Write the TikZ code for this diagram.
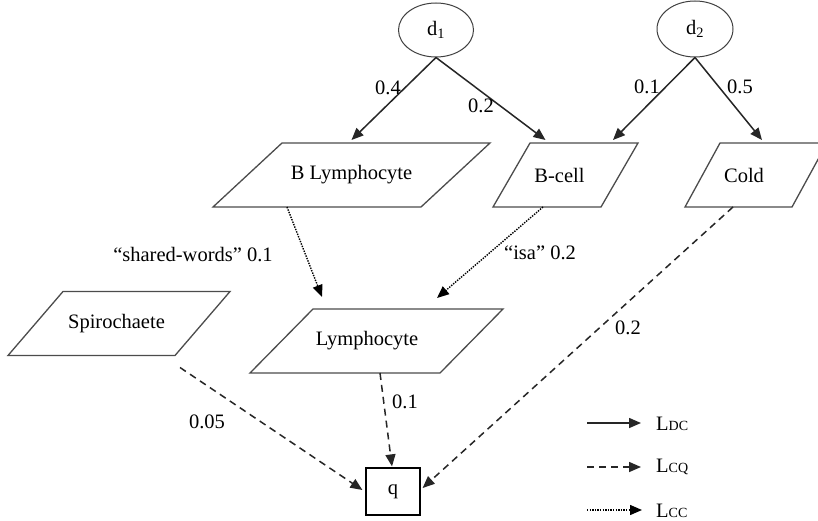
\documentclass[tikz,border=0pt]{standalone}
\usepackage{fontspec}
\setmainfont{Liberation Serif}
\usetikzlibrary{arrows.meta,shapes.geometric}
\newcommand{\drawpara}[2]{\draw[paraline] (#1.south west) -- ([xshift=#2]#1.north west) -- (#1.north east) -- ([xshift=-#2]#1.south east) -- cycle;}
\newcommand{\smallsub}[1]{{\fontsize{14}{14}\selectfont #1}}
\tikzset{
  paraline/.style={draw=black!70, line width=1.3pt},
  parabox/.style={minimum height=64pt, inner sep=0pt, outer sep=0pt},
  docnode/.style={ellipse, draw=black!75, line width=1pt, inner sep=0pt},
  qnode/.style={rectangle, draw=black, line width=1.2pt, minimum width=54pt, minimum height=47pt, inner sep=0pt},
  lbl/.style={inner sep=0pt},
  tipA/.style={-{Triangle[length=12pt,width=10pt]}},
  dc/.style={draw=black!85, line width=1.5pt, tipA},
  cq/.style={draw=black!85, line width=1.5pt, dash pattern=on 7pt off 5pt, tipA},
  cc/.style={draw=black, line width=1.4pt, dash pattern=on 1.4pt off 1.2pt, tipA},
}
\begin{document}
\begin{tikzpicture}[x=1pt,y=-1pt,font=\fontsize{20.5}{22}\selectfont]
\useasboundingbox (0,0) rectangle (818,521);
\fill[white] (0,0) rectangle (818,521);
\begin{scope}
\clip (0,0) rectangle (818,521);
% documents
\node[docnode, minimum width=75pt, minimum height=54pt] (d1) at (436,30) {d\textsubscript{1}};
\node[docnode, minimum width=76pt, minimum height=56pt] (d2) at (695,29) {d\textsubscript{2}};
% concepts
\node[parabox, minimum width=277pt] (blym) at (351.5,175) {B Lymphocyte};
\drawpara{blym}{69pt}
\node[parabox, minimum width=145pt] (bcell) at (565.5,175) {B-cell\hspace*{12pt}};
\drawpara{bcell}{37pt}
\node[parabox, minimum width=142pt] (cold) at (756,175) {Cold\hspace*{24pt}};
\drawpara{cold}{35pt}
\node[parabox, minimum width=222pt] (spiro) at (119,323.5) {Spirochaete\hspace*{5pt}};
\drawpara{spiro}{55pt}
\node[parabox, minimum width=253pt] (lymph) at (376.5,341) {Lymphocyte\hspace*{19pt}};
\drawpara{lymph}{63pt}
% query
\node[qnode] (q) at (393,491.5) {q};
\end{scope}
% L_DC edges
\draw[dc] (d1.south) -- ([yshift=3pt]blym.north);
\draw[dc] (d1.south) -- ([xshift=-20pt,yshift=3pt]bcell.north);
\draw[dc] (d2.south) -- ([xshift=47.5pt,yshift=3pt]bcell.north);
\draw[dc] (d2.south) -- ([xshift=6pt,yshift=3pt]cold.north);
% L_CC edges
\draw[cc] ([xshift=-64.5pt]blym.south) -- ([xshift=-54.5pt,yshift=12pt]lymph.north);
\draw[cc] ([xshift=-22.5pt]bcell.south) -- ([xshift=60.5pt,yshift=11pt]lymph.north);
% L_CQ edges
\draw[cq] ([xshift=-23pt]cold.south) -- ([xshift=2pt,yshift=3.5pt]q.east);
\draw[cq] ([xshift=3.5pt]lymph.south) -- ([xshift=-1pt,yshift=1pt]q.north);
\draw[cq] ([xshift=61pt,yshift=-12pt]spiro.south) -- ([xshift=-3pt,yshift=1.5pt]q.west);
% edge labels
\node[lbl] (w1) at (388,88) {0.4};
\node[lbl] (w2) at (481,106) {0.2};
\node[lbl] (w3) at (647,87) {0.1};
\node[lbl] (w4) at (740,87) {0.5};
\node[lbl] (w5) at (193,255) {“shared-words” 0.1};
\node[lbl] (w6) at (540,253) {“isa” 0.2};
\node[lbl] (w7) at (628,328) {0.2};
\node[lbl] (w8) at (405,402) {0.1};
\node[lbl] (w9) at (207,422) {0.05};
% legend
\coordinate (la1) at (587,423); \coordinate (la2) at (641,423);
\coordinate (lb1) at (587,467); \coordinate (lb2) at (641,467);
\coordinate (lc1) at (587,510); \coordinate (lc2) at (642,510);
\draw[dc] (la1) -- (la2);
\draw[cq] (lb1) -- (lb2);
\draw[cc] (lc1) -- (lc2);
\node[lbl, anchor=west] (ldc) at (656,424) {L\smallsub{DC}};
\node[lbl, anchor=west] (lcq) at (656,467) {L\smallsub{CQ}};
\node[lbl, anchor=west] (lcc) at (656,511) {L\smallsub{CC}};
\end{tikzpicture}
\end{document}
